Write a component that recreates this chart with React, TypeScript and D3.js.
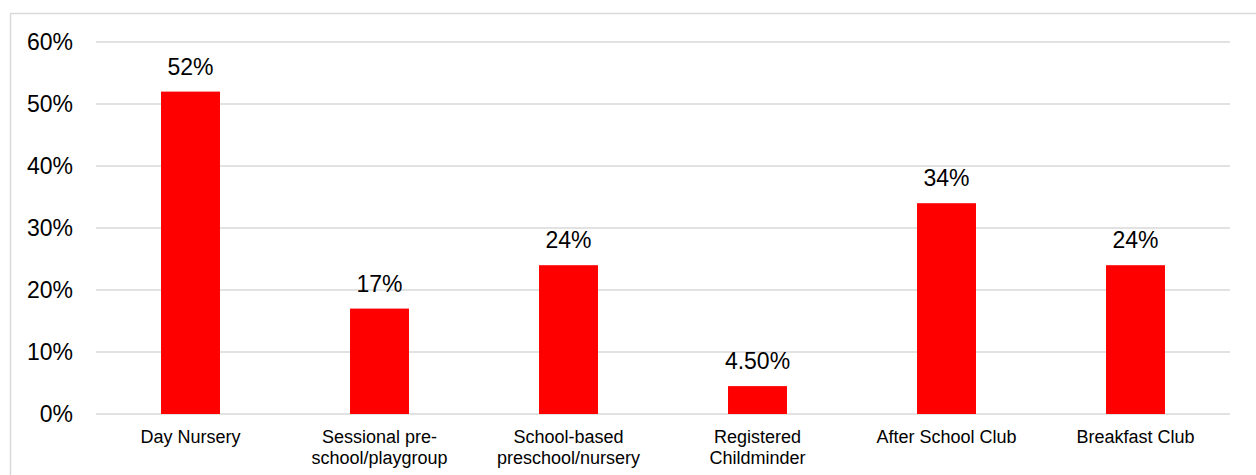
import React from "react";
import * as d3 from "d3";

const categories: string[][] = [
  ["Day Nursery"],
  ["Sessional pre-", "school/playgroup"],
  ["School-based", "preschool/nursery"],
  ["Registered", "Childminder"],
  ["After School Club"],
  ["Breakfast Club"],
];
const values: number[] = [52, 17, 24, 4.5, 34, 24];
const valueLabels: string[] = ["52%", "17%", "24%", "4.50%", "34%", "24%"];
const yTicks: number[] = [0, 10, 20, 30, 40, 50, 60];

const W = 1256;
const H = 475;
const left = 96;
const right = 1230;
const top = 42;
const bottom = 414;
const font = "'Liberation Sans', Arial, sans-serif";

export default function App() {
  const x = d3
    .scaleBand<number>()
    .domain(d3.range(categories.length))
    .range([left, right])
    .paddingInner(0.688)
    .paddingOuter(0.344);
  const y = d3.scaleLinear().domain([0, 60]).range([bottom, top]);

  return (
    <svg
      width={W}
      height={H}
      style={{ position: "absolute", left: 0, top: 0, background: "#fff" }}
    >
      <rect x={10.5} y={13.5} width={1300} height={500} fill="#fff" stroke="#d9d9d9" strokeWidth={1.5} />
      {yTicks.map((t) => (
        <g key={t}>
          <line x1={left} x2={right} y1={y(t)} y2={y(t)} stroke="#d9d9d9" strokeWidth={1.5} />
          <text x={73} y={y(t) + 8} textAnchor="end" fontFamily={font} fontSize={23} fill="#000">
            {t}%
          </text>
        </g>
      ))}
      {values.map((v, i) => (
        <g key={i}>
          <rect x={x(i)!} y={y(v)} width={x.bandwidth()} height={y(0) - y(v)} fill="#ff0000" />
          <text
            x={x(i)! + x.bandwidth() / 2}
            y={y(v) - 17}
            textAnchor="middle"
            fontFamily={font}
            fontSize={23}
            fill="#000"
          >
            {valueLabels[i]}
          </text>
          {categories[i].map((line, j) => (
            <text
              key={j}
              x={x(i)! + x.bandwidth() / 2}
              y={443 + j * 20.5}
              textAnchor="middle"
              fontFamily={font}
              fontSize={18}
              fill="#000"
            >
              {line}
            </text>
          ))}
        </g>
      ))}
    </svg>
  );
}
